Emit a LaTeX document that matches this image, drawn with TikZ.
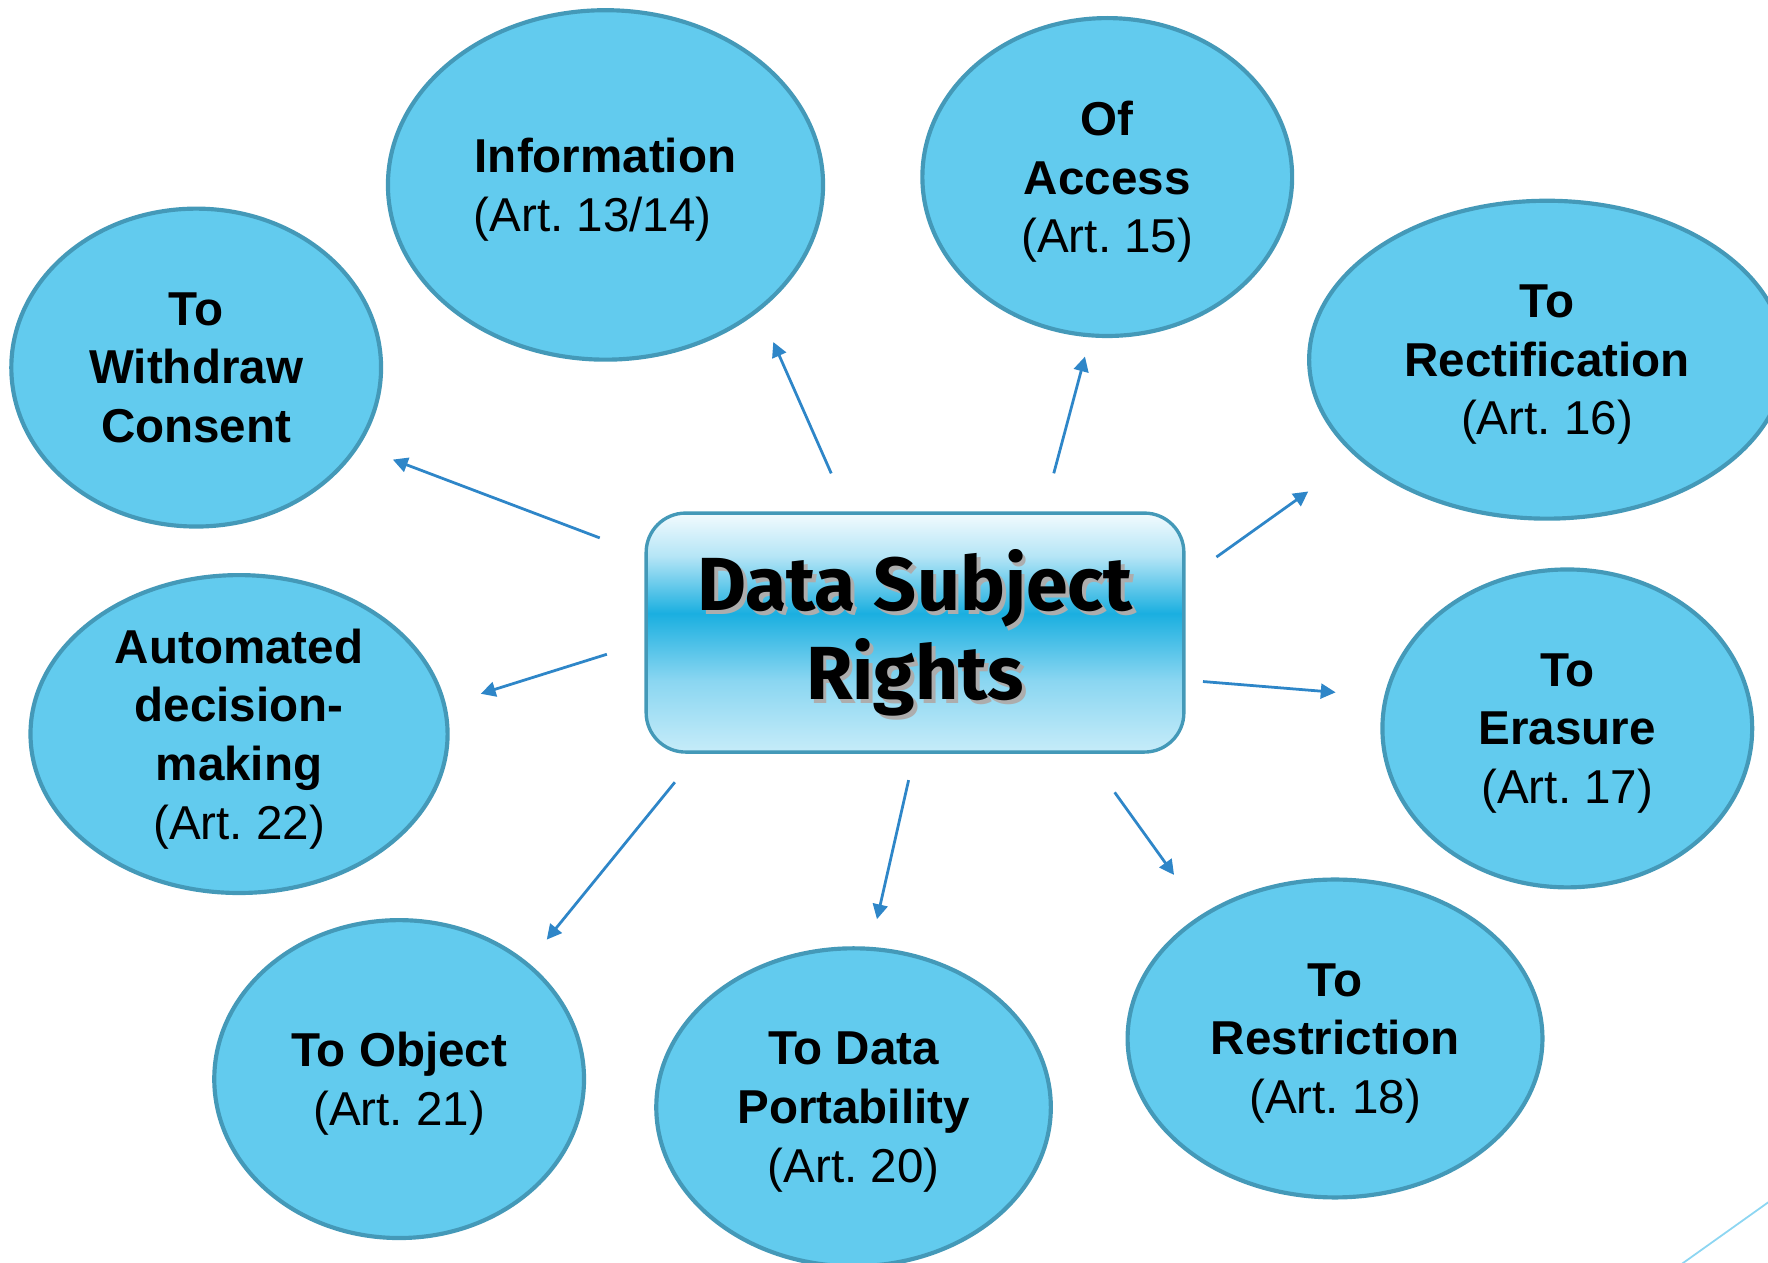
\documentclass[tikz,border=0pt]{standalone}
\usepackage{fontspec}
\setmainfont{Liberation Sans}
\newfontfamily\dsrfont{Fira Sans}
\usetikzlibrary{shapes.geometric,arrows.meta}

\definecolor{rightfill}{HTML}{62CBEE}
\definecolor{rightline}{HTML}{4499B8}
\definecolor{linkblue}{HTML}{2E86C8}
\definecolor{boxtop}{HTML}{F2FBFE}
\definecolor{boxupper}{HTML}{B5E5F6}
\definecolor{boxband}{HTML}{1AAFE0}
\definecolor{boxmid}{HTML}{8AD6F1}
\definecolor{boxlow}{HTML}{C6ECF9}
\definecolor{decoline}{HTML}{8DD6F2}

\pgfdeclareverticalshading{dsrshade}{100bp}{color(0bp)=(boxlow); color(25bp)=(boxlow);
  color(40bp)=(boxmid); color(54bp)=(boxband); color(66bp)=(boxupper);
  color(75bp)=(boxtop); color(100bp)=(boxtop)}

\tikzset{
  rightell/.style={ellipse, draw=rightline, line width=2.1pt, fill=rightfill,
    inner sep=0pt, outer sep=0pt, align=center, text depth=-1.7pt,
    font=\fontsize{24}{29.6}\selectfont\bfseries},
  dsrbox/.style={rectangle, rounded corners=0.7cm, draw=rightline, line width=1.7pt,
    shading=dsrshade, minimum width=9.54cm, minimum height=4.24cm,
    inner sep=0pt, outer sep=0pt, align=center,
    font=\dsrfont\fontsize{38}{45}\selectfont\bfseries},
  link/.style={draw=linkblue, line width=1.4pt, -{Triangle[length=7.5pt,width=7.5pt]}}
}

\newcommand{\dsrtext}{Data Subject\\Rights}
\newcommand{\art}[1]{{\mdseries (Art.\ #1)}}

\begin{document}
\begin{tikzpicture}[x=0.02cm, y=-0.02cm]
  \useasboundingbox (0,0) rectangle (1568,1120);

  % the rights
  \node[rightell, minimum width=6.56cm, minimum height=5.64cm] (wd) at (174,326) {To\\Withdraw\\Consent};
  \node[rightell, minimum width=7.72cm, minimum height=6.2cm] (info) at (537,164) {Information\\\art{13/14}\hspace*{0.46cm}};
  \node[rightell, minimum width=6.56cm, minimum height=5.64cm] (acc) at (982,157) {Of\\Access\\\art{15}};
  \node[rightell, minimum width=8.44cm, minimum height=5.64cm] (rect) at (1372,319) {To\\Rectification\\\art{16}};
  \node[rightell, minimum width=6.56cm, minimum height=5.64cm] (era) at (1390,646) {To\\Erasure\\\art{17}};
  \node[rightell, minimum width=7.36cm, minimum height=5.64cm] (restr) at (1184,921) {To\\Restriction\\\art{18}};
  \node[rightell, minimum width=7.0cm, minimum height=5.64cm] (port) at (757,982) {To Data\\Portability\\\art{20}};
  \node[rightell, minimum width=6.56cm, minimum height=5.64cm] (obj) at (354,957) {To Object\\\art{21}};
  \node[rightell, minimum width=7.4cm, minimum height=5.64cm] (auto) at (212,651) {Automated\\decision-\\making\\\art{22}};

  % centre box, text shadow drawn under the text
  \node[dsrbox, path picture={
      \node[align=center, text=black!32, font=\dsrfont\fontsize{38}{45}\selectfont\bfseries]
        at ([shift={(0.07cm,-0.07cm)}]path picture bounding box.center) {\dsrtext};
    }] (box) at (811.5,561) {\dsrtext};

  \draw[link, shorten <=0.88cm, shorten >=0.68cm] (box.164.75) -- (wd.-26.1);
  \draw[link, shorten <=0.77cm, shorten >=0.64cm] (box.119.8) -- (info.-39.9);
  \draw[link, shorten <=0.73cm, shorten >=0.39cm] (box.43.7) -- (acc.-96.9);
  \draw[link, shorten <=0.71cm, shorten >=1.08cm] (box.11.8) -- (rect.-153.6);
  \draw[link, shorten <=0.34cm, shorten >=0.9cm] (box.-10.3) -- (era.170.9);
  \draw[link, shorten <=0.88cm, shorten >=0.89cm] (box.-35.1) -- (restr.137.2);
  \draw[link, shorten <=0.51cm, shorten >=0.54cm] (box.-90) -- (port.84.4);
  \draw[link, shorten <=0.69cm, shorten >=0.56cm] (box.-151.6) -- (obj.42.8);
  \draw[link, shorten <=0.73cm, shorten >=0.68cm] (box.-178) -- (auto.8.8);

  % slide decoration
  \draw[decoline, line width=0.9pt] (1490,1122) -- (1570,1065);
\end{tikzpicture}
\end{document}
